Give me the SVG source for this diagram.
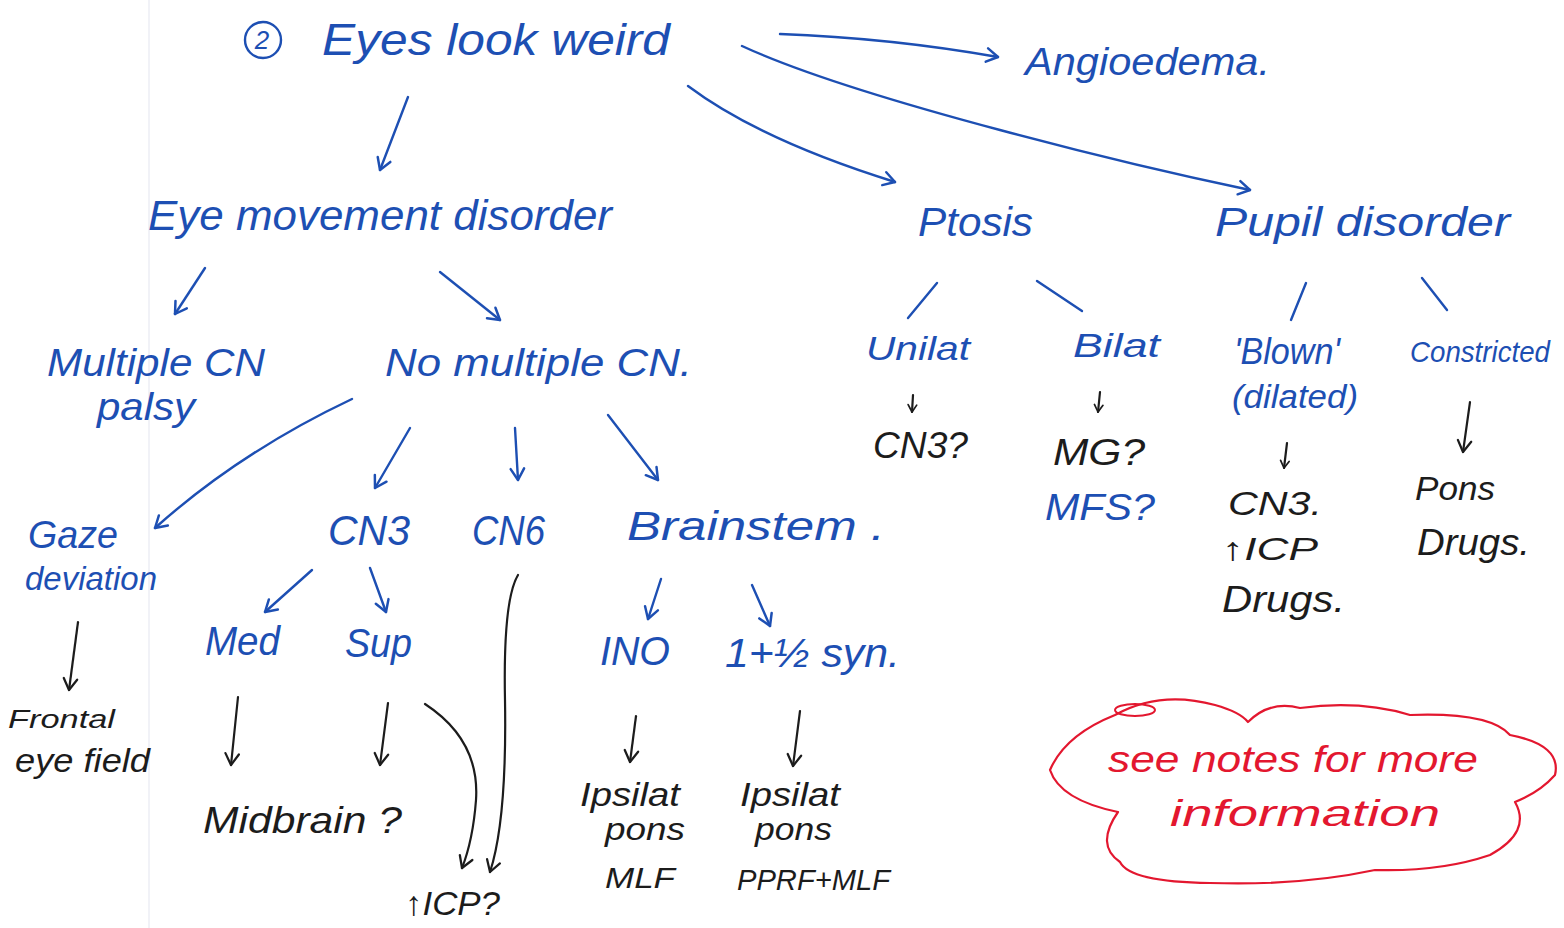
<svg xmlns="http://www.w3.org/2000/svg" width="1564" height="928" viewBox="0 0 1564 928">
  <style>
    .t { font-family: "Liberation Sans", Arial, sans-serif; font-style: italic; }
    .b { fill: #1d4fb3; }
    .k { fill: #1c1c1c; }
    .r { fill: #e3172f; }
    .cb { fill: none; stroke: #1d4fb3; stroke-width: 2.4; stroke-linecap: round; stroke-linejoin: round; }
    .ck { fill: none; stroke: #1c1c1c; stroke-width: 2.2; stroke-linecap: round; stroke-linejoin: round; }
    .ab { marker-end: url(#headBlue); }
    .ak { marker-end: url(#headBlack); }
    .as { marker-end: url(#headSmall); }
  </style>
  <defs>
    <marker id="headBlue" viewBox="0 0 14 16" refX="12" refY="8" markerWidth="16" markerHeight="18" markerUnits="userSpaceOnUse" orient="auto">
      <path d="M2,2 L12,8 L2,14" fill="none" stroke="#1d4fb3" stroke-width="2.2" stroke-linecap="round" stroke-linejoin="round"/>
    </marker>
    <marker id="headBlack" viewBox="0 0 14 16" refX="12" refY="8" markerWidth="16" markerHeight="18" markerUnits="userSpaceOnUse" orient="auto">
      <path d="M2,2 L12,8 L2,14" fill="none" stroke="#1c1c1c" stroke-width="2" stroke-linecap="round" stroke-linejoin="round"/>
    </marker>
    <marker id="headSmall" viewBox="0 0 14 16" refX="12" refY="8" markerWidth="10" markerHeight="12" markerUnits="userSpaceOnUse" orient="auto">
      <path d="M2,2 L12,8 L2,14" fill="none" stroke="#1c1c1c" stroke-width="2.4" stroke-linecap="round" stroke-linejoin="round"/>
    </marker>
  </defs>

  <rect width="1564" height="928" fill="#ffffff"/>
  <!-- page margin rule -->
  <line x1="149" y1="0" x2="149" y2="928" stroke="#eceef5" stroke-width="1.5"/>

  <g id="connectors">
    <!-- from the root -->
    <path class="cb ab" d="M780,34 Q890,38 998,57"/>
    <path class="cb ab" d="M742,46 Q820,82 1000,130 Q1130,165 1250,190"/>
    <path class="cb ab" d="M688,86 Q760,140 895,182"/>
    <path class="cb ab" d="M408,97 L380,170"/>
    <!-- eye movement branch -->
    <path class="cb ab" d="M205,268 L175,314"/>
    <path class="cb ab" d="M440,272 L500,320"/>
    <path class="cb ab" d="M352,399 Q240,452 155,528"/>
    <path class="cb ab" d="M410,428 L375,488"/>
    <path class="cb ab" d="M515,428 L518,480"/>
    <path class="cb ab" d="M608,415 L658,480"/>
    <path class="cb ab" d="M312,570 L265,612"/>
    <path class="cb ab" d="M370,568 L386,612"/>
    <path class="cb ab" d="M661,579 L648,619"/>
    <path class="cb ab" d="M752,585 L770,626"/>
    <!-- ptosis and pupil splits -->
    <path class="cb" d="M937,283 L908,318"/>
    <path class="cb" d="M1037,281 L1082,311"/>
    <path class="cb" d="M1306,283 L1291,320"/>
    <path class="cb" d="M1422,278 L1447,310"/>
    <!-- black arrows to localisation -->
    <path class="ck ak" d="M78,622 L69,690"/>
    <path class="ck ak" d="M238,697 L231,765"/>
    <path class="ck ak" d="M388,703 L380,765"/>
    <path class="ck ak" d="M425,704 Q480,740 476,800 Q473,840 462,868"/>
    <path class="ck ak" d="M518,575 Q503,600 505,700 Q507,820 490,872"/>
    <path class="ck ak" d="M636,716 L630,762"/>
    <path class="ck ak" d="M800,711 L793,766"/>
    <path class="ck as" d="M913,395 L912,412"/>
    <path class="ck as" d="M1100,392 L1098,412"/>
    <path class="ck as" d="M1287,443 L1284,468"/>
    <path class="ck ak" d="M1470,402 L1463,452"/>
  </g>

  <g id="root">
    <circle cx="263" cy="40" r="18" fill="none" stroke="#1d4fb3" stroke-width="2.4"/>
    <text class="t b" x="262" y="49" font-size="26" text-anchor="middle">2</text>
    <text class="t b" x="322" y="55" font-size="44" textLength="348" lengthAdjust="spacingAndGlyphs">Eyes look weird</text>
  </g>
  <g id="angioedema"><text class="t b" x="1025" y="75" font-size="38" textLength="245" lengthAdjust="spacingAndGlyphs">Angioedema.</text></g>
  <g id="eye-movement"><text class="t b" x="148" y="230" font-size="42" textLength="464" lengthAdjust="spacingAndGlyphs">Eye movement disorder</text></g>
  <g id="ptosis"><text class="t b" x="918" y="236" font-size="40" textLength="115" lengthAdjust="spacingAndGlyphs">Ptosis</text></g>
  <g id="pupil"><text class="t b" x="1215" y="236" font-size="40" textLength="295" lengthAdjust="spacingAndGlyphs">Pupil disorder</text></g>

  <g id="multiple-cn">
    <text class="t b" x="47" y="376" font-size="38" textLength="218" lengthAdjust="spacingAndGlyphs">Multiple CN</text>
    <text class="t b" x="97" y="420" font-size="38" textLength="98" lengthAdjust="spacingAndGlyphs">palsy</text>
  </g>
  <g id="no-multiple-cn"><text class="t b" x="385" y="376" font-size="38" textLength="307" lengthAdjust="spacingAndGlyphs">No multiple CN.</text></g>

  <g id="gaze">
    <text class="t b" x="28" y="548" font-size="38" textLength="90" lengthAdjust="spacingAndGlyphs">Gaze</text>
    <text class="t b" x="25" y="590" font-size="34" textLength="132" lengthAdjust="spacingAndGlyphs">deviation</text>
  </g>
  <g id="cn3"><text class="t b" x="328" y="545" font-size="42" textLength="82" lengthAdjust="spacingAndGlyphs">CN3</text></g>
  <g id="cn6"><text class="t b" x="472" y="545" font-size="42" textLength="73" lengthAdjust="spacingAndGlyphs">CN6</text></g>
  <g id="brainstem"><text class="t b" x="627" y="540" font-size="40" textLength="258" lengthAdjust="spacingAndGlyphs">Brainstem .</text></g>

  <g id="med"><text class="t b" x="205" y="655" font-size="40" textLength="75" lengthAdjust="spacingAndGlyphs">Med</text></g>
  <g id="sup"><text class="t b" x="345" y="657" font-size="40" textLength="67" lengthAdjust="spacingAndGlyphs">Sup</text></g>
  <g id="ino"><text class="t b" x="600" y="665" font-size="40" textLength="70" lengthAdjust="spacingAndGlyphs">INO</text></g>
  <g id="one-and-half"><text class="t b" x="725" y="667" font-size="40" textLength="175" lengthAdjust="spacingAndGlyphs">1+½ syn.</text></g>

  <g id="frontal-eye-field">
    <text class="t k" x="8" y="728" font-size="26" textLength="107" lengthAdjust="spacingAndGlyphs">Frontal</text>
    <text class="t k" x="15" y="772" font-size="34" textLength="135" lengthAdjust="spacingAndGlyphs">eye field</text>
  </g>
  <g id="midbrain"><text class="t k" x="203" y="833" font-size="36" textLength="199" lengthAdjust="spacingAndGlyphs">Midbrain ?</text></g>
  <g id="icp"><text class="t k" x="405" y="915" font-size="34" textLength="95" lengthAdjust="spacingAndGlyphs">↑ICP?</text></g>
  <g id="ino-site">
    <text class="t k" x="580" y="806" font-size="34" textLength="100" lengthAdjust="spacingAndGlyphs">Ipsilat</text>
    <text class="t k" x="605" y="840" font-size="32" textLength="80" lengthAdjust="spacingAndGlyphs">pons</text>
    <text class="t k" x="605" y="888" font-size="30" textLength="70" lengthAdjust="spacingAndGlyphs">MLF</text>
  </g>
  <g id="one-and-half-site">
    <text class="t k" x="740" y="806" font-size="34" textLength="100" lengthAdjust="spacingAndGlyphs">Ipsilat</text>
    <text class="t k" x="755" y="840" font-size="32" textLength="77" lengthAdjust="spacingAndGlyphs">pons</text>
    <text class="t k" x="737" y="890" font-size="30" textLength="153" lengthAdjust="spacingAndGlyphs">PPRF+MLF</text>
  </g>

  <g id="unilat">
    <text class="t b" x="866" y="360" font-size="34" textLength="104" lengthAdjust="spacingAndGlyphs">Unilat</text>
    <text class="t k" x="873" y="458" font-size="36" textLength="95" lengthAdjust="spacingAndGlyphs">CN3?</text>
  </g>
  <g id="bilat">
    <text class="t b" x="1073" y="357" font-size="34" textLength="87" lengthAdjust="spacingAndGlyphs">Bilat</text>
    <text class="t k" x="1053" y="465" font-size="36" textLength="92" lengthAdjust="spacingAndGlyphs">MG?</text>
    <text class="t b" x="1045" y="520" font-size="36" textLength="110" lengthAdjust="spacingAndGlyphs">MFS?</text>
  </g>
  <g id="blown">
    <text class="t b" x="1234" y="364" font-size="36" textLength="106" lengthAdjust="spacingAndGlyphs">'Blown'</text>
    <text class="t b" x="1232" y="408" font-size="34" textLength="126" lengthAdjust="spacingAndGlyphs">(dilated)</text>
    <text class="t k" x="1228" y="515" font-size="34" textLength="94" lengthAdjust="spacingAndGlyphs">CN3.</text>
    <text class="t k" x="1222" y="560" font-size="32" textLength="96" lengthAdjust="spacingAndGlyphs">↑ICP</text>
    <text class="t k" x="1222" y="612" font-size="36" textLength="123" lengthAdjust="spacingAndGlyphs">Drugs.</text>
  </g>
  <g id="constricted">
    <text class="t b" x="1410" y="362" font-size="29" textLength="140" lengthAdjust="spacingAndGlyphs">Constricted</text>
    <text class="t k" x="1415" y="500" font-size="34" textLength="80" lengthAdjust="spacingAndGlyphs">Pons</text>
    <text class="t k" x="1417" y="555" font-size="36" textLength="113" lengthAdjust="spacingAndGlyphs">Drugs.</text>
  </g>

  <g id="notes-cloud">
    <path d="M1050,770 Q1065,735 1115,715 Q1160,690 1215,705 Q1240,712 1248,722 Q1270,700 1300,708 Q1360,700 1410,715 Q1490,712 1510,735 Q1562,745 1555,775 Q1540,792 1515,802 Q1532,832 1490,855 Q1440,872 1375,870 Q1300,886 1210,883 Q1130,882 1120,862 Q1095,845 1118,812 Q1060,800 1050,770 Z" fill="none" stroke="#e3172f" stroke-width="2.2" stroke-linejoin="round"/>
    <ellipse cx="1135" cy="710" rx="20" ry="6" fill="none" stroke="#e3172f" stroke-width="2"/>
    <text class="t r" x="1108" y="772" font-size="36" textLength="370" lengthAdjust="spacingAndGlyphs">see notes for more</text>
    <text class="t r" x="1170" y="826" font-size="36" textLength="270" lengthAdjust="spacingAndGlyphs">information</text>
  </g>
</svg>
